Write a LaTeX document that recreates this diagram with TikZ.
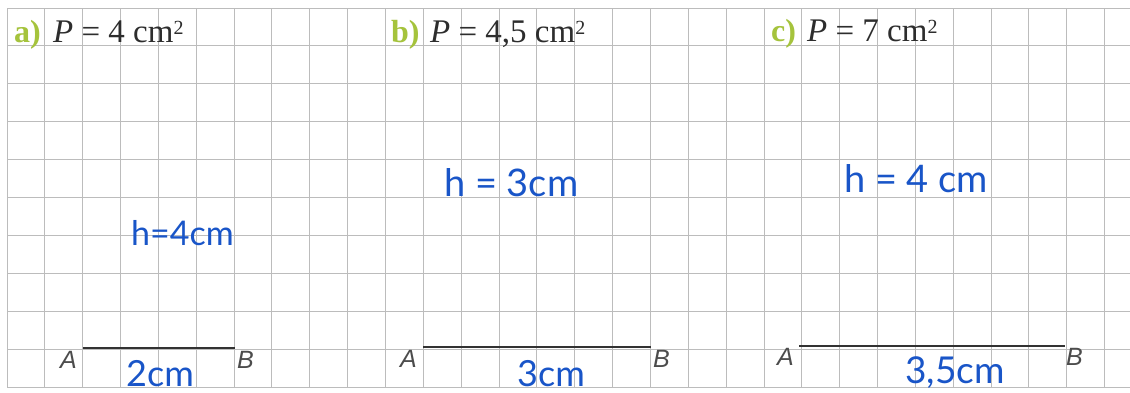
\documentclass[tikz,border=0pt]{standalone}
\usepackage{fontspec}
\setmainfont{Liberation Serif}
\newfontfamily\labfont{Liberation Sans}
\newfontfamily\handfont{Lato}
\definecolor{gridc}{RGB}{188,188,188}
\definecolor{partc}{RGB}{165,195,60}
\definecolor{textc}{RGB}{45,45,45}
\definecolor{segc}{RGB}{50,50,50}
\definecolor{handc}{RGB}{25,85,200}
\newcommand{\sqsup}{\raisebox{8pt}{\fontsize{20}{22}\selectfont 2}}
\begin{document}
\begin{tikzpicture}[x=1pt,y=-1pt,
  gridline/.style={draw=gridc,line width=1pt},
  txt/.style={inner sep=0pt,anchor=base west},
  part/.style={txt,text=partc,font=\fontsize{32}{36}\selectfont\bfseries},
  formula/.style={txt,text=textc,font=\fontsize{33}{38}\selectfont},
  ptlabel/.style={txt,text=textc!85,font=\labfont\itshape\fontsize{25}{30}\selectfont},
  hand/.style={txt,text=handc,font=\handfont\fontsize{36}{40}\selectfont},
  seg/.style={draw=segc,line width=2.5pt}]
\useasboundingbox (0,0) rectangle (1130,392);
\fill[white] (0,0) rectangle (1130,392);
% grid
\foreach \i in {0,...,29} \draw[gridline] ({7+37.85*\i},8) -- ({7+37.85*\i},387);
\foreach \j in {0,...,10} \draw[gridline] (7,{8+37.9*\j}) -- (1130,{8+37.9*\j});
% headings
\node[part] (pa) at (14,42) {a)};
\node[formula] (fa) at (53,42) {\textit{P} = 4 cm\sqsup};
\node[part] (pb) at (391,42) {b)};
\node[formula] (fb) at (430,42) {\textit{P} = 4,5 cm\sqsup};
\node[part] (pc) at (771,41) {c)};
\node[formula] (fc) at (807,41) {\textit{P} = 7 cm\sqsup};
% segments
\coordinate (A1) at (83,348);
\coordinate (B1) at (235,348);
\coordinate (A2) at (423,347);
\coordinate (B2) at (651,347);
\coordinate (A3) at (799,346);
\coordinate (B3) at (1065,346);
\draw[seg] (A1) -- (B1);
\draw[seg] (A2) -- (B2);
\draw[seg] (A3) -- (B3);
\node[ptlabel] (la1) at (60,368) {A};
\node[ptlabel] (lb1) at (237,368) {B};
\node[ptlabel] (la2) at (400,367) {A};
\node[ptlabel] (lb2) at (653,367) {B};
\node[ptlabel] (la3) at (777,365) {A};
\node[ptlabel] (lb3) at (1066,365) {B};
% handwritten notes
\node[hand,font=\handfont\fontsize{34}{38}\selectfont] (h1) at (131,245) {h=4cm};
\node[hand,font=\handfont\fontsize{38}{42}\selectfont] (h2) at (444,196) {h = 3cm};
\node[hand,font=\handfont\fontsize{38}{42}\selectfont] (h3) at (844,192) {h = 4 cm};
\node[hand] (b1) at (126,386) {2cm};
\node[hand] (b2) at (517,386) {3cm};
\node[hand,font=\handfont\fontsize{37}{42}\selectfont] (b3) at (905,383) {3,5cm};
\end{tikzpicture}
\end{document}
